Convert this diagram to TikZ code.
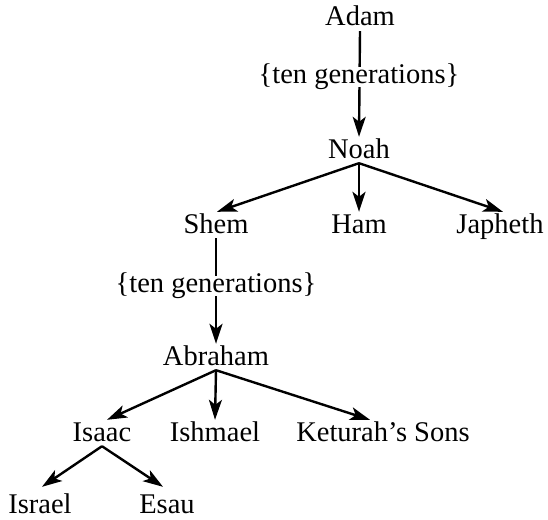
\documentclass[tikz,border=0pt]{standalone}
\usepackage{fontspec}
\setmainfont{Liberation Serif}
\usetikzlibrary{arrows.meta}
\begin{document}
\begin{tikzpicture}[x=1pt,y=-1pt,
  person/.style={anchor=base,inner sep=0pt,text height=21pt,text depth=5pt,
    font=\fontsize{28.5}{34}\selectfont},
  gap/.style={anchor=base,inner sep=0pt,fill=white,text height=16pt,text depth=4pt,
    font=\fontsize{28.5}{34}\selectfont},
  arr/.style={line width=2.4pt,-{Stealth[length=20pt,width=13pt,inset=5pt]}}]
\useasboundingbox (0,0) rectangle (548,519);

% family members
\node[person] (adam)    at (360,26)  {Adam};
\node[person] (noah)    at (359,158) {Noah};
\node[person] (shem)    at (216,233) {Shem};
\node[person] (ham)     at (359,233) {Ham};
\node[person] (japheth) at (500,233) {Japheth};
\node[person] (abraham) at (216,365) {Abraham};
\node[person] (isaac)   at (102,441) {Isaac};
\node[person] (ishmael) at (215,441) {Ishmael};
\node[person] (keturah) at (383,441) {Keturah’s Sons};
\node[person,text depth=0pt] (israel) at (40,513)  {Israel};
\node[person,text depth=0pt] (esau)   at (167,513) {Esau};

% descent lines
\draw[arr] (adam.south) -- (noah.north);
\draw[arr] (noah.south) -- ([xshift=1pt]shem.north);
\draw[arr] (noah.south) -- (ham.north);
\draw[arr] (noah.south) -- ([xshift=3pt]japheth.north);
\draw[arr] (shem.south) -- (abraham.north);
\draw[arr] (abraham.south) -- ([xshift=5pt]isaac.north);
\draw[arr] (abraham.south) -- (ishmael.north);
\draw[arr] (abraham.south) -- ([xshift=-13pt]keturah.north);
\draw[arr] (isaac.south) -- ([xshift=2pt,yshift=5pt]israel.north);
\draw[arr] (isaac.south) -- ([xshift=-4pt,yshift=5pt]esau.north);

% gap labels over the long descent lines
\node[gap] (gen1) at (359,83)  {\{ten generations\}};
\node[gap] (gen2) at (216,292) {\{ten generations\}};
\end{tikzpicture}
\end{document}
